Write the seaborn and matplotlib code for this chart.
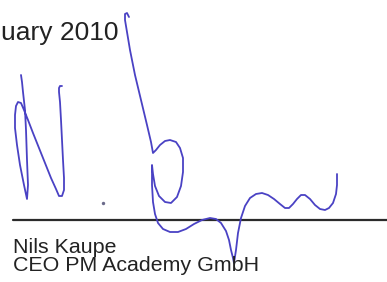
import pandas as pd
import numpy as np
import matplotlib.pyplot as plt
import seaborn as sns

# signature strokes (pixel coords, y grows downward)
n_x = [21, 22, 23, 25, 26, 27, 28, 27, 24, 20, 17, 15, 15, 16, 18, 21, 24, 28, 33, 39, 45, 51, 56, 59, 62, 64, 64, 63, 62, 61, 60, 59, 59, 60, 62]
n_y = [75, 82, 92, 110, 130, 160, 185, 199, 185, 165, 145, 128, 115, 106, 102, 103, 110, 120, 133, 148, 163, 178, 189, 196, 196, 190, 178, 160, 140, 120, 102, 92, 88, 86, 86]

big_x = [129, 127, 125, 125, 127, 130, 135, 141, 147, 151, 153, 156, 160, 165, 170, 176, 180, 183, 183, 181, 177, 171, 165, 159, 155, 153, 152, 152, 153, 155, 158, 163, 170, 178, 186, 194, 202, 210, 216, 221, 226, 229, 231, 233, 234, 236, 238, 241, 245, 250, 256, 262, 268, 274, 280, 285, 289, 293, 297, 301, 305, 310, 315, 320, 325, 329, 333, 336, 337, 337, 337]
big_y = [17, 13, 14, 20, 32, 50, 75, 100, 125, 142, 153, 150, 145, 141, 140, 142, 148, 158, 172, 186, 197, 203, 202, 196, 186, 174, 165, 185, 202, 214, 223, 229, 232, 232, 229, 224, 220, 218, 219, 223, 231, 240, 250, 258, 263, 250, 233, 218, 206, 198, 194, 193, 195, 199, 204, 208, 208, 204, 199, 195, 195, 199, 205, 209, 210, 208, 203, 194, 185, 178, 174]

dot_x = [103]
dot_y = [203]

rule_x = [13, 387]
rule_y = [220, 220]

date_text = "uary 2010"
name_text = "Nils Kaupe"
role_text = "CEO PM Academy GmbH"

strokes = pd.concat([
    pd.DataFrame({'x': n_x, 'y': n_y, 'stroke': 'N'}),
    pd.DataFrame({'x': big_x, 'y': big_y, 'stroke': 'rest'}),
])

sns.set_theme(style='white')
plt.rcParams['font.family'] = ['Liberation Sans', 'DejaVu Sans']

fig = plt.figure(figsize=(3.87, 2.82), dpi=100)
ax = fig.add_axes([0, 0, 1, 1])

# signature line
sns.lineplot(x=rule_x, y=rule_y, color='#2b2b2b', linewidth=1.6, ax=ax)

# signature ink
sns.lineplot(data=strokes, x='x', y='y', units='stroke', estimator=None, sort=False,
             color='#4a42c4', linewidth=1.3, ax=ax)
sns.scatterplot(x=dot_x, y=dot_y, color='#6a6a8a', s=6, linewidth=0, ax=ax)

ax.text(1, 40, date_text, fontsize=19, color='#222222', va='baseline')
ax.text(13, 253, name_text, fontsize=15.4, color='#222222', va='baseline')
ax.text(13, 271, role_text, fontsize=15.4, color='#222222', va='baseline')

ax.set_xlim(0, 387)
ax.set_ylim(282, 0)
ax.axis('off')

plt.savefig('out.png', dpi=100)
